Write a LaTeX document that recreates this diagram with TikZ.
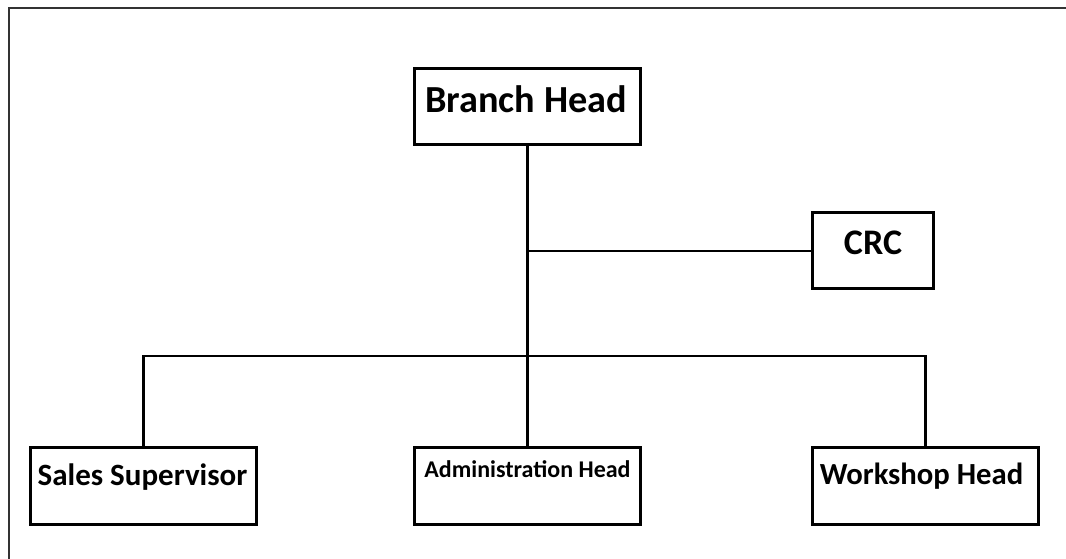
\documentclass[tikz,border=0pt]{standalone}
\usepackage{fontspec}
\setmainfont{Carlito}
\begin{document}
\begin{tikzpicture}[x=1bp,y=-1bp,
  box/.style={draw, line width=3bp, rectangle, inner sep=0pt, outer sep=0pt, minimum width=226bp, minimum height=77bp},
  lbl/.style={anchor=base, inner sep=0pt, font=\bfseries},
  conn/.style={line width=2.8bp},
  frame/.style={line width=2bp, draw=black!80}]
\useasboundingbox (0,0) rectangle (1066,559);
\coordinate (ftl) at (9,8.5);
\coordinate (ftr) at (1070,8.5);
\coordinate (fbl) at (9,565);
\draw[frame] (ftr) -- (ftl) -- (fbl);
% boxes
\node[box, minimum height=76bp] (bh) at (527.5,106.5) {};
\node[box, minimum width=121bp, minimum height=76bp] (crc) at (873,251) {};
\node[box] (ss) at (143.5,486) {};
\node[box] (ah) at (527.5,486) {};
\node[box] (wh) at (925.5,486) {};
% labels
\node[lbl, font=\bfseries\fontsize{38.4}{40}\selectfont] (tbh) at (526,113) {Branch Head};
\node[lbl, font=\bfseries\fontsize{36.1}{38}\selectfont] (tcrc) at (873,255) {CRC};
\node[lbl, font=\bfseries\fontsize{31.1}{33}\selectfont] (tss) at (142.5,485) {Sales Supervisor};
\node[lbl, font=\bfseries\fontsize{24.1}{26}\selectfont] (tah) at (527.5,477) {Administration Head};
\node[lbl, font=\bfseries\fontsize{30.8}{32}\selectfont] (twh) at (921.5,484) {Workshop Head};
% connectors
\coordinate (bus) at (527,356);
\draw[conn] (bh.south) -- (ah.north);
\draw[conn] (crc.west) -- (crc.west -| bh.south);
\draw[conn] (ss.north) -- (ss.north |- bus) -- (wh.north |- bus) -- (wh.north);
\end{tikzpicture}
\end{document}
